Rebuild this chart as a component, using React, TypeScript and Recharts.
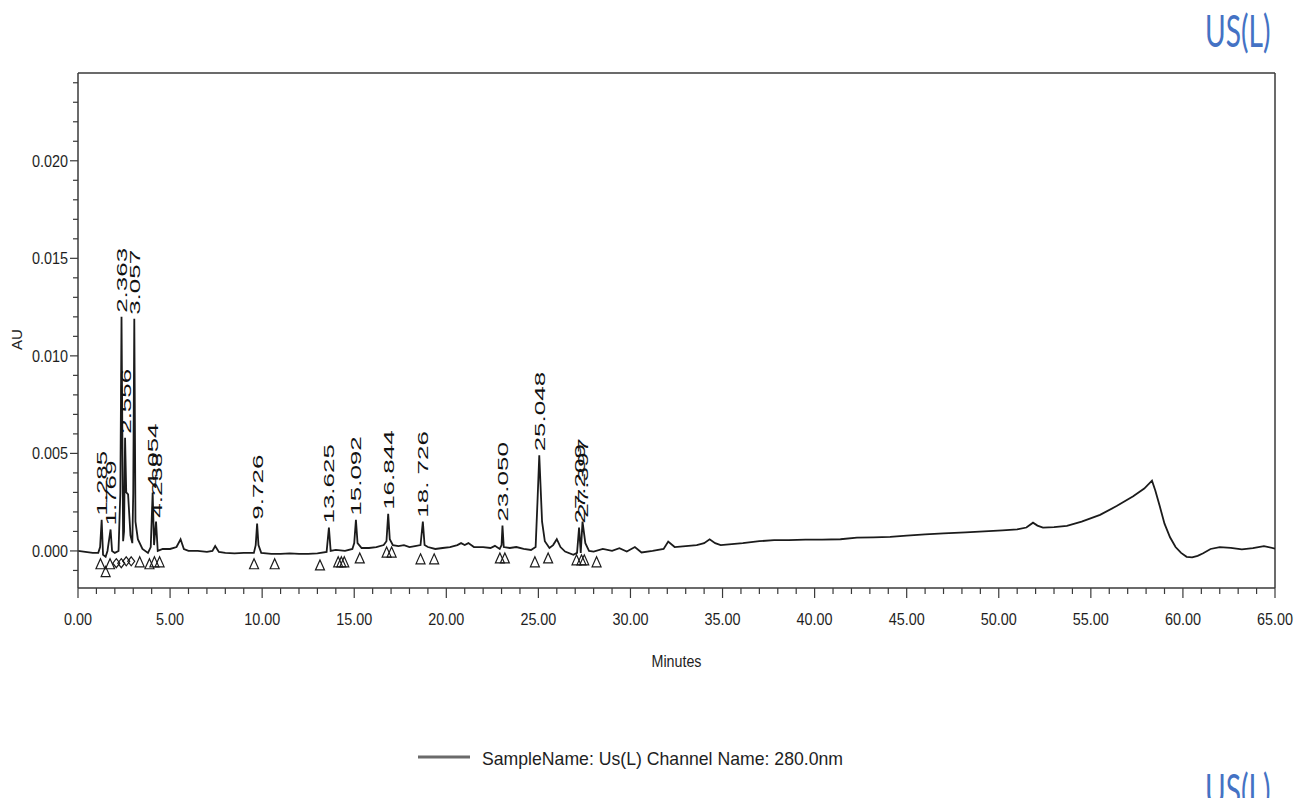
import React from "react";
import {
  ComposedChart,
  Line,
  ReferenceLine,
  Scatter,
  XAxis,
  YAxis,
} from "recharts";

// Detector trace at 280 nm: [minutes, AU]
const trace: [number, number][] = [
  [0.0, 0.0], [0.4, -0.00005], [0.8, -0.0001], [1.1, -0.0001], [1.2, 0.0002],
  [1.285, 0.0016], [1.36, -0.0002], [1.5, -0.0003], [1.6, 0.0], [1.769, 0.0011],
  [1.85, 0.0], [2.0, -0.0001], [2.2, 0.0], [2.3, 0.003], [2.363, 0.012],
  [2.45, 0.0005], [2.5, 0.001], [2.556, 0.0058], [2.62, 0.003], [2.72, 0.0029],
  [2.85, 0.0008], [2.95, 0.0004], [3.0, 0.003], [3.057, 0.0119], [3.12, 0.0015],
  [3.25, 0.0006], [3.5, 0.0001], [3.8, -0.0001], [3.95, 0.0002], [4.054, 0.003],
  [4.13, 0.0003], [4.238, 0.0015], [4.33, 0.0], [4.6, 0.0001], [5.0, 0.0001],
  [5.35, 0.0002], [5.57, 0.0006], [5.75, 0.0001], [6.0, 0.0], [6.5, 0.0],
  [7.0, -0.00005], [7.3, 0.0], [7.45, 0.00025], [7.65, -0.00005], [8.0, -0.0001],
  [8.5, -0.00012], [9.0, -0.0001], [9.55, -0.0001], [9.65, 0.0003], [9.726, 0.0014],
  [9.8, 0.0003], [9.95, -0.0001], [10.5, -0.00015], [11.0, -0.00015], [11.5, -0.00012],
  [12.0, -0.00015], [12.5, -0.00015], [13.0, -0.00012], [13.5, -0.00005], [13.625, 0.0012],
  [13.72, 0.0], [14.0, 0.00005], [14.5, 0.0], [14.9, 0.0001], [15.0, 0.0004],
  [15.092, 0.0016], [15.18, 0.0004], [15.4, 0.00015], [15.8, 0.00015], [16.2, 0.0002],
  [16.6, 0.0003], [16.75, 0.0005], [16.844, 0.0019], [16.93, 0.0006], [17.1, 0.0003],
  [17.4, 0.00025], [17.7, 0.0003], [18.0, 0.0002], [18.3, 0.00025], [18.6, 0.0003],
  [18.726, 0.0015], [18.82, 0.0003], [19.0, 0.0002], [19.4, 0.0001], [19.8, 0.00015],
  [20.2, 0.0002], [20.6, 0.0003], [20.8, 0.0004], [21.0, 0.0003], [21.2, 0.0004],
  [21.5, 0.0002], [22.0, 0.0002], [22.4, 0.00015], [22.64, 0.00026], [22.9, 0.0001],
  [23.0, 0.0003], [23.05, 0.0013], [23.12, 0.0002], [23.45, 0.00015], [23.8, 0.0002],
  [24.2, 0.0001], [24.6, 0.00005], [24.85, 0.0002], [24.95, 0.0025], [25.048, 0.0049],
  [25.2, 0.0015], [25.35, 0.0005], [25.6, 0.00015], [25.8, 0.0003], [26.0, 0.0006],
  [26.2, 0.0002], [26.45, -0.00003], [26.9, -0.0002], [27.1, -0.0001], [27.209, 0.0012],
  [27.3, -0.0001], [27.397, 0.0015], [27.55, 0.0004], [27.75, 0.0], [28.0, -0.00003],
  [28.5, 0.0001], [29.0, 0.0], [29.4, 0.00014], [29.8, -0.00003], [30.24, 0.0002],
  [30.6, -0.00008], [31.2, 0.0], [31.8, 0.0001], [32.05, 0.00048], [32.4, 0.0002],
  [33.0, 0.00025], [33.6, 0.0003], [34.0, 0.0004], [34.3, 0.0006], [34.6, 0.0004],
  [34.9, 0.0003], [35.5, 0.00035], [36.1, 0.0004], [37.0, 0.0005], [37.8, 0.00055],
  [38.6, 0.00055], [39.5, 0.00058], [40.4, 0.00058], [41.4, 0.0006], [42.3, 0.00068],
  [43.2, 0.0007], [44.1, 0.00072], [45.0, 0.00078], [46.0, 0.00085], [47.0, 0.0009],
  [48.2, 0.00095], [49.2, 0.001], [50.2, 0.00105], [51.0, 0.0011], [51.5, 0.0012],
  [51.86, 0.00145], [52.1, 0.0013], [52.4, 0.0012], [53.0, 0.00122], [53.7, 0.00128],
  [54.5, 0.0015], [55.5, 0.00185], [56.4, 0.0023], [57.3, 0.0028], [57.9, 0.0032],
  [58.32, 0.0036], [58.5, 0.0031], [58.74, 0.0023], [59.0, 0.0014], [59.3, 0.0007],
  [59.6, 0.0002], [59.9, -0.0001], [60.2, -0.0003], [60.5, -0.00033], [60.8, -0.00025],
  [61.1, -0.00012], [61.5, 0.0001], [62.0, 0.0002], [62.6, 0.00016], [63.2, 0.00008],
  [63.8, 0.00014], [64.4, 0.00025], [65.0, 0.00012],
];

// integrated peaks (retention time labels)
const peakTimes = [
  1.285, 1.769, 2.363, 2.556, 3.057, 4.054, 4.238, 9.726, 13.625, 15.092,
  16.844, 18.726, 23.05, 25.048, 27.209, 27.397,
];
const peakLabels = [
  "1.285", "1.769", "2.363", "2.556", "3.057", "4.054", "4.238", "9.726", "13.625",
  "15.092", "16.844", "18. 726", "23.050", "25.048", "27.209", "27.397",
];

// baseline start/end markers
const triangleMarks: [number, number][] = [
  [1.22, -0.0004], [1.5, -0.0008], [1.74, -0.0004], [3.35, -0.0003], [3.88, -0.0004],
  [4.15, -0.0003], [4.43, -0.0003], [9.56, -0.0004], [10.68, -0.0004], [13.14, -0.00046],
  [14.13, -0.0003], [14.3, -0.0003], [14.46, -0.0003], [15.3, -0.0001], [16.76, 0.0002],
  [17.03, 0.0002], [18.6, -0.00015], [19.34, -0.00015], [22.91, -0.0001], [23.18, -0.0001],
  [24.81, -0.0003], [25.53, -0.0001], [27.07, -0.0002], [27.34, -0.0002], [27.49, -0.0002],
  [28.16, -0.0003],
];
const diamondMarks: [number, number][] = [
  [2.08, -0.0004], [2.35, -0.0004], [2.62, -0.0003], [2.89, -0.0003],
];

const xTicks = Array.from({ length: 66 }, (_, i) => i);
const yTicks = Array.from({ length: 26 }, (_, i) => Number(((i - 1) * 0.001).toFixed(3)));
const Y_MIN = -0.0019;
const Y_MAX = 0.0245;

const INK = "#1b1b1b";
const AXIS = "#3a3a3a";
const FONT = "'Liberation Sans', Arial, sans-serif";
const TAG_FONT = "Lato, 'Open Sans', sans-serif";

const rows = trace.map(([t, au]) => ({ t, au }));
const auAt = (t: number) => trace.find((p) => p[0] === t)?.[1] ?? 0;
const peakRows = peakTimes.map((t, i) => ({ t, au: auAt(t), label: peakLabels[i] }));
const triRows = triangleMarks.map(([t, au]) => ({ t, au }));
const diaRows = diamondMarks.map(([t, au]) => ({ t, au }));

// narrow tick lettering
const narrowWidth = (s: string) =>
  s.split("").reduce((w, c) => w + (c === "." ? 4 : 8), 0);

function XTick(props: any) {
  const { x, y, payload } = props;
  const v = payload.value as number;
  const major = v % 5 === 0;
  const label = v.toFixed(2);
  return (
    <g>
      <line x1={x} x2={x} y1={y} y2={y + (major ? 10 : 6)} stroke={AXIS} strokeWidth={1.2} />
      {major && (
        <text
          x={x}
          y={y + 37}
          textAnchor="middle"
          fontFamily={FONT}
          fontSize={16}
          fill="#1e1e1e"
          textLength={narrowWidth(label)}
          lengthAdjust="spacingAndGlyphs"
        >
          {label}
        </text>
      )}
    </g>
  );
}

function YTick(props: any) {
  const { x, y, payload } = props;
  const v = payload.value as number;
  const major = Math.abs(v / 0.005 - Math.round(v / 0.005)) < 1e-6;
  const label = v.toFixed(3);
  return (
    <g>
      <line x1={x - (major ? 8 : 5)} x2={x} y1={y} y2={y} stroke={AXIS} strokeWidth={1.2} />
      {major && (
        <text
          x={x - 10}
          y={y + 6}
          textAnchor="end"
          fontFamily={FONT}
          fontSize={16}
          fill="#1e1e1e"
          textLength={narrowWidth(label)}
          lengthAdjust="spacingAndGlyphs"
        >
          {label}
        </text>
      )}
    </g>
  );
}

function PeakLabel(props: any) {
  const { cx, cy, payload } = props;
  const label = payload.label as string;
  const len = label.split("").reduce((w, c) => w + (/\d/.test(c) ? 14.5 : 7), 0);
  const ax = cx + 5.5;
  const ay = cy - 4;
  return (
    <text
      x={ax}
      y={ay}
      transform={`rotate(-90 ${ax} ${ay})`}
      fontFamily={FONT}
      fontSize={15}
      fill="#111"
      textLength={len}
      lengthAdjust="spacingAndGlyphs"
    >
      {label}
    </text>
  );
}

function Triangle(props: any) {
  const { cx, cy } = props;
  return (
    <path
      d={`M${cx},${cy} L${cx + 4.5},${cy + 10} L${cx - 4.5},${cy + 10} Z`}
      fill="none"
      stroke={INK}
      strokeWidth={1.2}
    />
  );
}

function Diamond(props: any) {
  const { cx, cy } = props;
  return (
    <path
      d={`M${cx},${cy} L${cx + 3.5},${cy + 4.5} L${cx},${cy + 9} L${cx - 3.5},${cy + 4.5} Z`}
      fill="none"
      stroke={INK}
      strokeWidth={1.2}
    />
  );
}

// sample tag, set in a condensed cut of the sans face
function Tag({ x, y }: { x: number; y: number }) {
  return (
    <text
      x={0}
      y={0}
      transform={`translate(${x} ${y}) scale(0.64 1)`}
      fontFamily={TAG_FONT}
      fontSize={44}
      fill="#4472C4"
    >
      US(L)
    </text>
  );
}

export default function App() {
  return (
    <div style={{ position: "absolute", left: 0, top: 0, width: 1305, height: 798, background: "#fff", overflow: "hidden" }}>
      <ComposedChart
        width={1305}
        height={798}
        data={rows}
        margin={{ top: 73, right: 30, bottom: 150, left: 0 }}
      >
        <XAxis
          dataKey="t"
          type="number"
          domain={[0, 65]}
          ticks={xTicks}
          interval={0}
          allowDataOverflow
          height={60}
          tickLine={false}
          tickSize={0}
          tickMargin={0}
          tick={<XTick />}
          axisLine={{ stroke: AXIS, strokeWidth: 1.5 }}
          label={{
            content: (p: any) => {
              const vb = p.viewBox;
              return (
                <text
                  x={vb.x + vb.width / 2}
                  y={vb.y + 79}
                  textAnchor="middle"
                  fontFamily={FONT}
                  fontSize={16}
                  fill="#1e1e1e"
                  textLength={50}
                  lengthAdjust="spacingAndGlyphs"
                >
                  Minutes
                </text>
              );
            },
          }}
        />
        <YAxis
          type="number"
          domain={[Y_MIN, Y_MAX]}
          ticks={yTicks}
          interval={0}
          allowDataOverflow
          width={78}
          tickLine={false}
          tickSize={0}
          tickMargin={0}
          tick={<YTick />}
          axisLine={{ stroke: AXIS, strokeWidth: 1.5 }}
          label={{
            content: (p: any) => {
              const vb = p.viewBox;
              const lx = vb.x + 22;
              const ly = vb.y + vb.height / 2 + 9;
              return (
                <text
                  x={lx}
                  y={ly}
                  transform={`rotate(-90 ${lx} ${ly})`}
                  textAnchor="middle"
                  fontFamily={FONT}
                  fontSize={15}
                  fill="#1e1e1e"
                >
                  AU
                </text>
              );
            },
          }}
        />
        <ReferenceLine y={Y_MAX} stroke={AXIS} strokeWidth={1.5} />
        <ReferenceLine x={65} stroke={AXIS} strokeWidth={1.5} />
        <Line
          type="linear"
          dataKey="au"
          stroke={INK}
          strokeWidth={1.8}
          dot={false}
          isAnimationActive={false}
        />
        <Scatter data={triRows} dataKey="au" shape={<Triangle />} isAnimationActive={false} />
        <Scatter data={diaRows} dataKey="au" shape={<Diamond />} isAnimationActive={false} />
        <Scatter data={peakRows} dataKey="au" shape={<PeakLabel />} isAnimationActive={false} />
      </ComposedChart>

      <svg
        width={1305}
        height={798}
        style={{ position: "absolute", left: 0, top: 0, pointerEvents: "none" }}
      >
        <Tag x={1205} y={47} />
        <line x1={418} x2={470} y1={757} y2={757} stroke="#6a6a6a" strokeWidth={3} />
        <text
          x={482}
          y={765}
          fontFamily={FONT}
          fontSize={19}
          fill="#1e1e1e"
          textLength={361}
          lengthAdjust="spacingAndGlyphs"
        >
          SampleName: Us(L) Channel Name: 280.0nm
        </text>
        <Tag x={1205} y={806} />
      </svg>
    </div>
  );
}
